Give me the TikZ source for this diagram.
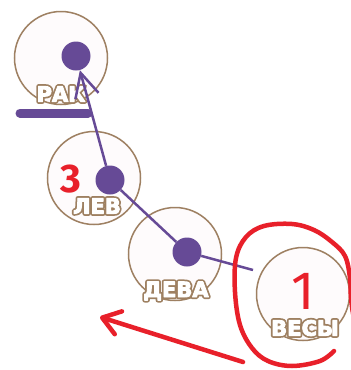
\documentclass[tikz,border=0pt]{standalone}
\usepackage{fontspec}
\setmainfont{DejaVu Sans}
\newfontfamily\handfont{Fira Sans}
\usetikzlibrary{arrows.meta,positioning}
\definecolor{zodpurple}{HTML}{664A96}
\definecolor{zodbrown}{HTML}{9E8062}
\definecolor{penred}{HTML}{E8202A}
\definecolor{zodfill}{HTML}{FEFBFC}
\newcommand{\zname}[1]{\rlap{\special{pdf:literal direct 1 Tr 4.4 w 1 j 0.62 0.5 0.38 RG}#1}\special{pdf:literal direct 2 Tr 0.9 w 1 1 1 RG}#1\special{pdf:literal direct 0 Tr 0.4 w 0 j}}

\begin{document}
\begin{tikzpicture}[x=1pt,y=-1pt,
	sign/.style={circle, draw=zodbrown, line width=1.5pt, fill=zodfill, minimum size=93pt, inner sep=0pt},
	planet/.style={circle, fill=zodpurple, minimum size=29pt, inner sep=0pt},
	tag/.style={text=white, font=\bfseries\fontsize{21}{21}\selectfont, inner sep=0pt},
	link/.style={zodpurple, line width=2.5pt},
	pen/.style={penred, line width=4.5pt, line cap=round, line join=round}]
	\fill[white] (0,0) rectangle (351,370);
	\useasboundingbox (0,0) rectangle (351,370);

	\node[sign] (rak) at (61,58) {};
	\node[sign] (lev) at (94,178) {};
	\node[sign] (deva) at (175,254) {};
	\node[sign] (vesy) at (303,294) {};

	\node[tag] (rak-t) at (61,94) {\zname{РАК}};
	\node[tag] (lev-t) at (97,206) {\zname{ЛЕВ}};
	\node[tag] (deva-t) at (176,291) {\zname{ДЕВА}};
	\node[tag] (vesy-t) at (305,328) {\zname{ВЕСЫ}};

	\node[planet] (rak-p) at (76,56) {};
	\node[planet] (lev-p) at (110,180) {};
	\node[planet] (deva-p) at (187,252) {};
	\coordinate (vesy-in) at (253,270);

	\coordinate (bar-l) at (20,113);
	\coordinate (bar-r) at (88,113);
	\draw[zodpurple, line width=9pt, line cap=round] (bar-l) -- (bar-r);

	\draw[link, -{Straight Barb[length=24pt, width=24pt]}] (lev-p) -- (rak-p);
	\draw[link] (lev-p) -- (deva-p) -- (vesy-in);

	\node[text=penred, font=\handfont\bfseries\fontsize{40}{40}\selectfont] (three) at (71,179) {3};
	\node[text=penred, font=\handfont\fontsize{54}{54}\selectfont] (one) at (303,291) {1};

	\draw[pen] plot[smooth, tension=0.6] coordinates {(334,351) (320,361) (292,366) (268,361) (252,348) (240,325) (235,292) (236,258) (246,237) (264,226) (292,224) (314,230) (332,242) (345,256) (350,278) (351,298) (354,318) (360,335)};
	\coordinate (arr-tail) at (243,362);
	\coordinate (arr-tip) at (100,317);
	\draw[pen, -{Straight Barb[length=17pt, width=24pt, round]}] (arr-tail) -- (arr-tip);
\end{tikzpicture}
\end{document}
